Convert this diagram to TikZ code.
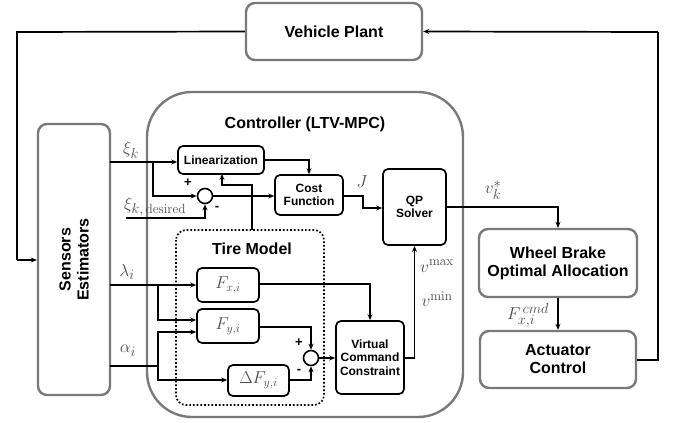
\documentclass[tikz,border=0pt]{standalone}
\usepackage{fontspec}
\newfontfamily\arialb{Liberation Sans}
\usetikzlibrary{arrows.meta,calc}
\begin{document}
\begin{tikzpicture}[x=1pt,y=-1pt,
  outerbox/.style={draw=gray!60!black!75, line width=2.4pt, rounded corners=9pt, fill=white, align=center, inner sep=0pt, font=\arialb\bfseries\fontsize{16}{18}\selectfont},
  innerbox/.style={draw=black, line width=1.7pt, rounded corners=5pt, fill=white, align=center, inner sep=0pt, font=\arialb\bfseries\fontsize{12}{13.5}\selectfont},
  mathbox/.style={draw=black, line width=1.7pt, rounded corners=5pt, fill=white, inner sep=0pt, font=\fontsize{18}{20}\selectfont, text=black!70},
  sumnode/.style={draw=black, line width=1.6pt, circle, minimum size=15pt, inner sep=0pt},
  conn/.style={line width=1.7pt, -{Stealth[length=6pt,width=5pt]}},
  plain/.style={line width=1.7pt},
  lbl/.style={font=\fontsize{19}{21}\selectfont, text=black!70, inner sep=0pt},
  sgn/.style={font=\arialb\bfseries\fontsize{13}{14}\selectfont, inner sep=0pt},
  title/.style={font=\arialb\bfseries\fontsize{16}{18}\selectfont, inner sep=0pt}
]
\useasboundingbox (0,0) rectangle (673,423);
% outer boxes
\node[outerbox, minimum width=176pt, minimum height=57pt] (vp) at (334,31.5) {Vehicle Plant};
\node[outerbox, minimum width=72pt, minimum height=271pt] (se) at (74,259.5) {};
\node[title, rotate=90, align=center] (setxt) at (74,259.5) {Sensors\\Estimators};
\draw[draw=gray!60!black!75, line width=2.4pt, rounded corners=45pt] (147,92) rectangle (463,417);
\node[title] (ctitle) at (305,124) {Controller (LTV-MPC)};
\node[outerbox, minimum width=158pt, minimum height=68pt] (wb) at (558,263) {Wheel Brake\\Optimal Allocation};
\node[outerbox, minimum width=156pt, minimum height=57pt] (ac) at (558,359.5) {Actuator\\Control};
% tire model
\draw[line width=1.7pt, dotted, rounded corners=10pt] (176,230) rectangle (324,405);
\node[title] (tm) at (252,249) {Tire Model};
% inner boxes
\node[innerbox, minimum width=86pt, minimum height=28pt] (lin) at (221,160) {Linearization};
\node[innerbox, minimum width=68pt, minimum height=40pt] (cost) at (309,195) {Cost\\Function};
\node[innerbox, minimum width=63pt, minimum height=76pt] (qp) at (414.5,207) {QP\\Solver};
\node[innerbox, minimum width=68pt, minimum height=73pt] (vcc) at (370,357.5) {Virtual\\Command\\Constraint};
\node[mathbox, minimum width=62pt, minimum height=34pt] (fx) at (228,285) {$F_{x,i}$};
\node[mathbox, minimum width=62pt, minimum height=34pt] (fy) at (228,326) {$F_{y,i}$};
\node[mathbox, minimum width=61pt, minimum height=31pt] (dfy) at (258.5,380.5) {$\Delta F_{y,i}$};
\node[sumnode] (s1) at (205,196) {};
\node[sumnode] (s2) at (311,358) {};
% coordinates
\coordinate (tl) at (17,32);
\coordinate (bl) at (17,260);
\coordinate (tr) at (658,32);
\coordinate (br) at (658,360);
\coordinate (xis) at (110,162);
\coordinate (xib) at (153,162);
\coordinate (xid) at (126,218);
\coordinate (las) at (110,285);
\coordinate (lab) at (158,285);
\coordinate (als) at (110,366);
\coordinate (alb) at (158,366);
% main loop
\draw[plain] (vp.west) -- (tl) -- (bl);
\draw[conn] (bl) -- (se.west |- bl);
\draw[plain] (ac.east |- br) -- (br) -- (tr);
\draw[conn] (tr) -- (vp.east);
% xi
\draw[conn] (xis) -- (lin.west |- xis);
\draw[conn] (xib) |- (s1.west);
\draw[conn] (xid) -| (s1.south);
\draw[conn] (s1.east) -- (cost.west |- s1.east);
\draw[conn] (lin.east |- 0,160) -| (cost.north);
\draw[conn] (tm.north |- 0,230) |- (222,185) -- (222,174);
\draw[conn] (cost.east |- 0,196) -- (363,196) |- (qp.west |- 0,208);
\draw[conn] (qp.east |- 0,207) -| (wb.north);
\draw[conn] (wb.south) -- (ac.north);
% tire model
\draw[conn] (las) -- (fx.west |- las);
\draw[conn] (lab) |- (fy.west |- 0,320);
\draw[plain] (als) -- (alb);
\draw[conn] (alb) |- (fy.west |- 0,332);
\draw[conn] (alb) |- (dfy.west |- 0,380);
\draw[conn] (fy.east |- 0,327) -| (s2.north);
\draw[conn] (dfy.east |- 0,380) -| (s2.south);
\draw[conn] (s2.east) -- (vcc.west |- s2.east);
\draw[conn] (fx.east |- 0,284) -| (vcc.north);
\draw[conn] (vcc.east |- 0,358) -| (qp.south);
% labels
\node[lbl] (l1) at (131,150) {$\xi_k$};
\node[lbl, anchor=west] (l2) at (124,207) {$\xi_{k,\,\mathrm{desired}}$};
\node[lbl] (l3) at (127,272) {$\lambda_i$};
\node[lbl] (l4) at (128,351) {$\alpha_i$};
\node[lbl] (l5) at (362,182) {$J$};
\node[lbl] (l6) at (493,190) {$v_k^*$};
\node[lbl] (l7) at (437,266) {$v^{\max}$};
\node[lbl] (l8) at (437,299) {$v^{\min}$};
\node[lbl] (l9) at (528,315) {$F_{x,i}^{\,cmd}$};
\node[sgn] (p1) at (188,183) {+};
\node[sgn] (m1) at (217,208) {-};
\node[sgn] (p2) at (299,343) {+};
\node[sgn] (m2) at (299,371) {-};
\end{tikzpicture}
\end{document}
